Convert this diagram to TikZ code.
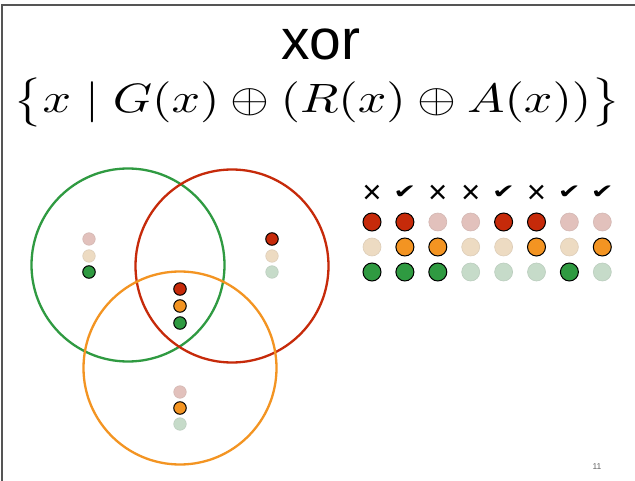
\documentclass[tikz,border=0pt]{standalone}
\usepackage{fontspec}
\setmainfont{Liberation Sans}
\newfontfamily\djv{DejaVu Sans}
\definecolor{cR}{HTML}{C62A0A}
\definecolor{cA}{HTML}{F39422}
\definecolor{cG}{HTML}{2F9A41}
\definecolor{fR}{HTML}{E2C1BC}
\definecolor{fA}{HTML}{EDDBC2}
\definecolor{fG}{HTML}{C6DBC9}
\definecolor{frameg}{HTML}{555555}
\newcommand\xmk{{\rmfamily\fontsize{33}{33}\selectfont ×}}
\newcommand\ckmk{\scalebox{1.3}[0.95]{\djv\fontsize{21}{21}\selectfont ✔}}
\tikzset{
  ring/.style={circle, draw=#1, line width=2.3pt, minimum size=193pt, inner sep=0pt},
  vdot/.style={circle, inner sep=0pt, minimum size=12.5pt},
  tdot/.style={circle, inner sep=0pt, minimum size=18pt},
  dOn/.style={fill=#1, draw=black, line width=1pt},
  dOff/.style={fill=#1, draw=#1!85!gray, line width=0.6pt},
  symb/.style={inner sep=0pt},
}
\begin{document}
\begin{tikzpicture}[x=1pt,y=-1pt]
\useasboundingbox (0,0) rectangle (635,481);
\fill[white] (0,0) rectangle (635,481);
\draw[frameg, line width=1.5pt] (2,481) -- (2,5) -- (635,5);
% title
\node[anchor=base, font=\fontsize{57}{60}\selectfont] (title) at (321,60) {xor};
\node[anchor=base, inner sep=0pt] (formula) at (317,113)
  {\scalebox{5.0}[4.1]{$\bigl\{x \mid G(x)\oplus(R(x)\oplus A(x))\bigr\}$}};
% circles
\node[ring=cG] (cg) at (128,265) {};
\node[ring=cR] (cr) at (232,266) {};
\node[ring=cA] (ca) at (180,368) {};
% venn dots: left (green only)
\node[vdot, dOff=fR] (l1) at (89,239) {};
\node[vdot, dOff=fA] (l2) at (89,256) {};
\node[vdot, dOn=cG]  (l3) at (89,272) {};
% right (red only)
\node[vdot, dOn=cR]  (r1) at (272,239) {};
\node[vdot, dOff=fA] (r2) at (272,256) {};
\node[vdot, dOff=fG] (r3) at (272,272) {};
% center
\node[vdot, dOn=cR] (c1) at (180,289) {};
\node[vdot, dOn=cA] (c2) at (180,306) {};
\node[vdot, dOn=cG] (c3) at (180,323) {};
% bottom (orange only)
\node[vdot, dOff=fR] (b1) at (180,392) {};
\node[vdot, dOn=cA]  (b2) at (180,408) {};
\node[vdot, dOff=fG] (b3) at (180,424) {};
% table
\foreach \i/\m/\yy/\r/\a/\g in {
  1/\xmk/194/dOn=cR/dOff=fA/dOn=cG,
  2/\ckmk/192/dOn=cR/dOn=cA/dOn=cG,
  3/\xmk/194/dOff=fR/dOn=cA/dOn=cG,
  4/\xmk/194/dOff=fR/dOff=fA/dOff=fG,
  5/\ckmk/192/dOn=cR/dOff=fA/dOff=fG,
  6/\xmk/194/dOn=cR/dOn=cA/dOff=fG,
  7/\ckmk/192/dOff=fR/dOff=fA/dOn=cG,
  8/\ckmk/192/dOff=fR/dOn=cA/dOff=fG}{
  \pgfmathsetmacro\xx{372+32.9*(\i-1)}
  \node[symb] (sy\i) at (\xx,\yy) {\m};
  \edef\tmp{\noexpand\node[tdot,\r] (tr\i) at (\xx,222) {};
    \noexpand\node[tdot,\a] (ta\i) at (\xx,247) {};
    \noexpand\node[tdot,\g] (tg\i) at (\xx,272) {};}
  \tmp
}
\node[font=\fontsize{8.5}{8.5}\selectfont, text=gray!80!black] (page) at (597,467) {11};
\end{tikzpicture}
\end{document}
